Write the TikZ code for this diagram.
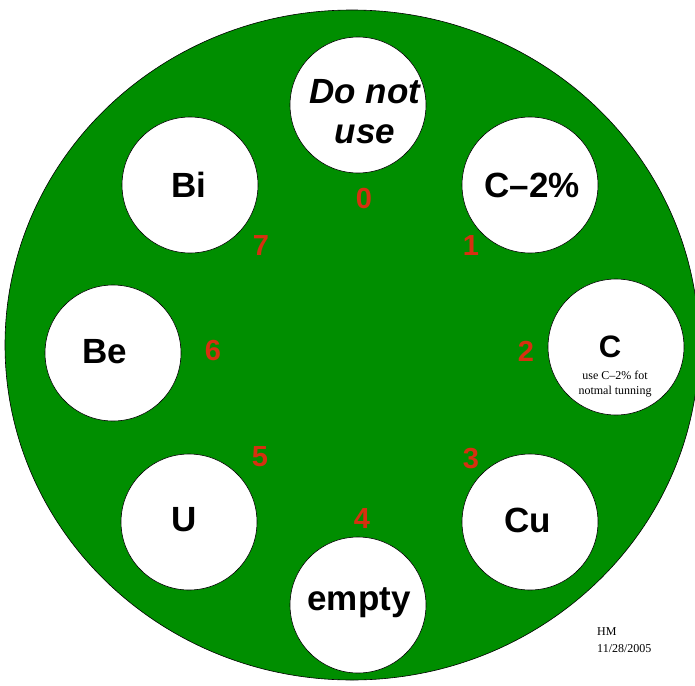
\documentclass[tikz,border=0pt]{standalone}
\usepackage{fontspec}
\setmainfont{Liberation Sans}
\newfontfamily\serifsmall{Liberation Serif}
\definecolor{wheelgreen}{RGB}{0,142,0}
\definecolor{numred}{RGB}{214,48,16}
\begin{document}
\begin{tikzpicture}[x=1pt,y=-1pt,
  slot/.style={circle,draw=black,line width=0.6pt,fill=white,minimum size=136pt,inner sep=0pt},
  lbl/.style={font=\fontsize{35}{40}\selectfont\bfseries,align=center,inner sep=0pt},
  num/.style={text=numred,font=\fontsize{29}{30}\selectfont\bfseries,inner sep=0pt},
  note/.style={font=\serifsmall\fontsize{12}{17}\selectfont,align=left,inner sep=0pt}]
\useasboundingbox (0,0) rectangle (695,685);
\fill[wheelgreen,draw=black,line width=0.6pt] (352,345) ellipse [x radius=347, y radius=335];
\node[slot] (s0) at (358,105) {};
\node[slot] (s1) at (530,185) {};
\node[slot] (s2) at (616,347) {};
\node[slot] (s3) at (530,522) {};
\node[slot] (s4) at (358,605) {};
\node[slot] (s5) at (189,522) {};
\node[slot] (s6) at (113,353) {};
\node[slot] (s7) at (190,185) {};
\node[lbl,font=\fontsize{35}{40}\selectfont\bfseries\itshape] (t0) at (365,112) {Do not\\use};
\node[lbl] (t1) at (532,185) {C–2\%};
\node[lbl,font=\fontsize{31}{34}\selectfont\bfseries] (t2) at (610,347) {C};
\node[note,align=center,font=\serifsmall\fontsize{12}{15}\selectfont] (cnote) at (615,384) {use C–2\% fot\\notmal tunning};
\node[lbl] (t3) at (528,520) {Cu};
\node[lbl] (t4) at (359,603) {empty};
\node[lbl] (t5) at (184,520) {U};
\node[lbl] (t6) at (105,352) {Be};
\node[lbl] (t7) at (189,185) {Bi};
\node[num] (n0) at (364,199) {0};
\node[num] (n1) at (471,246) {1};
\node[num] (n2) at (526,351) {2};
\node[num] (n3) at (471,459) {3};
\node[num] (n4) at (362,519) {4};
\node[num] (n5) at (260,457) {5};
\node[num] (n6) at (213,351) {6};
\node[num] (n7) at (261,246) {7};
\node[note,anchor=north west] (hm) at (597,627) {HM\\11/28/2005};
\end{tikzpicture}
\end{document}
